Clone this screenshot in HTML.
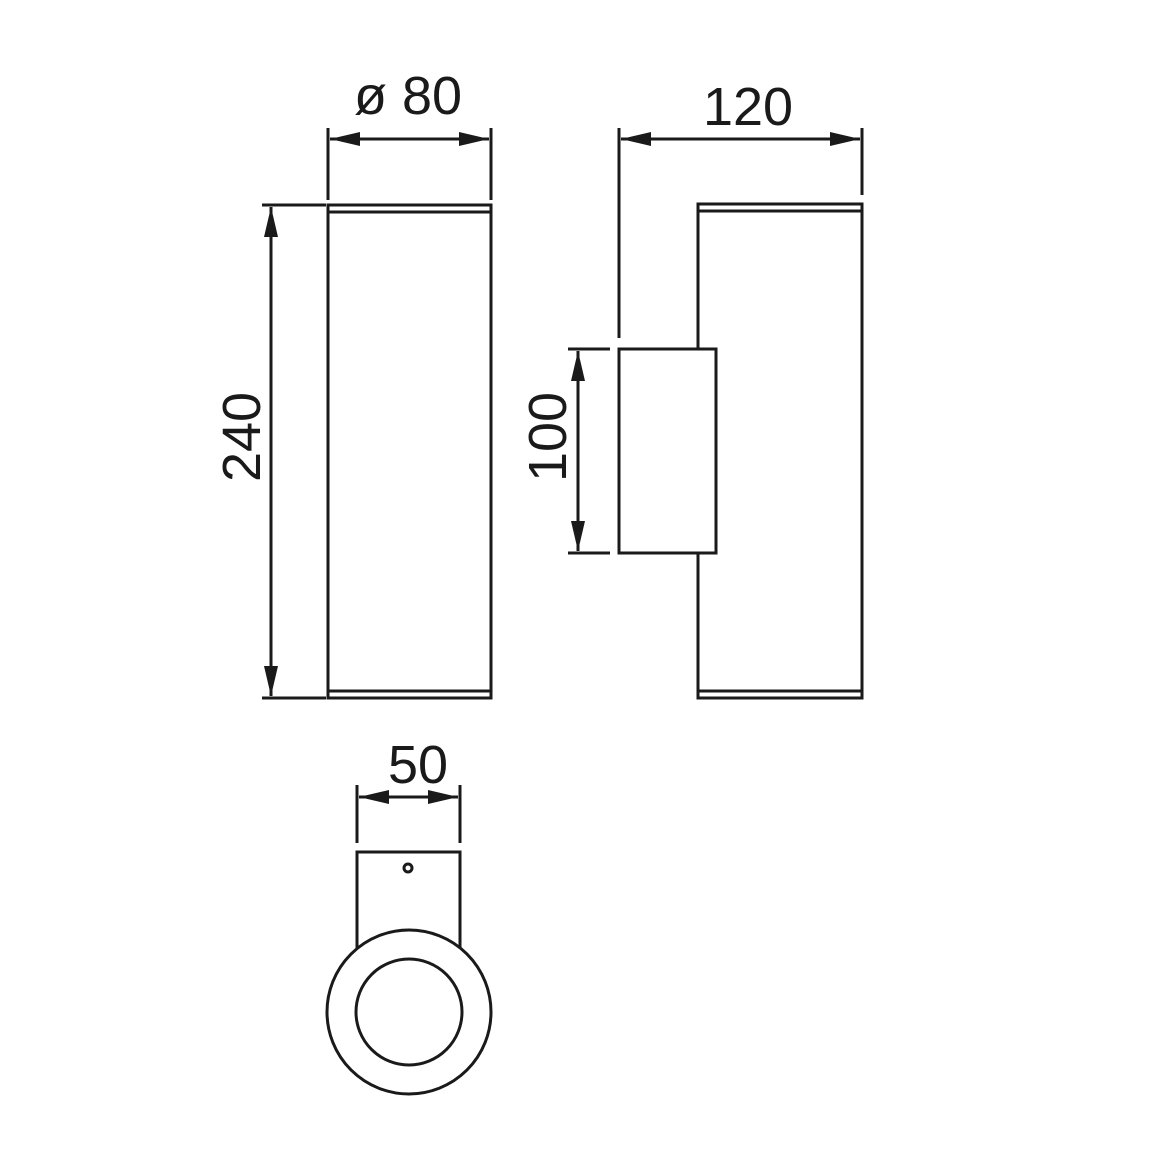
<!DOCTYPE html>
<html><head><style>html,body{margin:0;padding:0;background:#fff}svg{display:block}</style></head>
<body>
<svg width="1160" height="1160" viewBox="0 0 1160 1160" xmlns="http://www.w3.org/2000/svg">
<g stroke="#1a1a1a" stroke-width="3" fill="none">
<!-- left cylinder -->
<rect x="328" y="205" width="163" height="493"/>
<line x1="328" y1="212" x2="491" y2="212"/>
<line x1="328" y1="691" x2="491" y2="691"/>
<!-- 80 dim -->
<line x1="328" y1="128" x2="328" y2="200"/>
<line x1="491" y1="128" x2="491" y2="200"/>
<line x1="330" y1="139" x2="489" y2="139"/>
<!-- 240 dim -->
<line x1="262" y1="205" x2="326" y2="205"/>
<line x1="262" y1="698" x2="326" y2="698"/>
<line x1="271" y1="207" x2="271" y2="696"/>
<!-- right cylinder -->
<rect x="698" y="204" width="164" height="494"/>
<line x1="698" y1="211" x2="862" y2="211"/>
<line x1="698" y1="691" x2="862" y2="691"/>
<rect x="619" y="349" width="97" height="204" fill="#fff"/>
<!-- 120 dim -->
<line x1="619" y1="128" x2="619" y2="338"/>
<line x1="862" y1="128" x2="862" y2="195"/>
<line x1="621" y1="139" x2="860" y2="139"/>
<!-- 100 dim -->
<line x1="568" y1="349" x2="610" y2="349"/>
<line x1="568" y1="553" x2="610" y2="553"/>
<line x1="578" y1="351" x2="578" y2="551"/>
<!-- bottom view -->
<line x1="357" y1="785" x2="357" y2="843"/>
<line x1="460" y1="785" x2="460" y2="843"/>
<line x1="359" y1="797" x2="458" y2="797"/>
<path d="M357 948 V852 H460 V948"/>
<circle cx="408" cy="868" r="4"/>
<circle cx="409" cy="1012" r="82" fill="#fff"/>
<circle cx="409" cy="1012" r="53"/>
</g>
<g fill="#1a1a1a">
<polygon points="330,139 360,132 360,146"/>
<polygon points="489,139 459,132 459,146"/>
<polygon points="271,207 264,237 278,237"/>
<polygon points="271,696 264,666 278,666"/>
<polygon points="621,139 651,132 651,146"/>
<polygon points="860,139 830,132 830,146"/>
<polygon points="578,351 571,381 585,381"/>
<polygon points="578,551 571,521 585,521"/>
<polygon points="359,797 389,790 389,804"/>
<polygon points="458,797 428,790 428,804"/>
</g>
<g font-family="Liberation Sans, sans-serif" font-size="54" fill="#1a1a1a" text-anchor="middle">
<text x="408" y="114">ø 80</text>
<text x="748" y="125">120</text>
<text x="418" y="783">50</text>
<text transform="translate(260,437) rotate(-90)">240</text>
<text transform="translate(566,437) rotate(-90)">100</text>
</g>
</svg>
</body></html>
